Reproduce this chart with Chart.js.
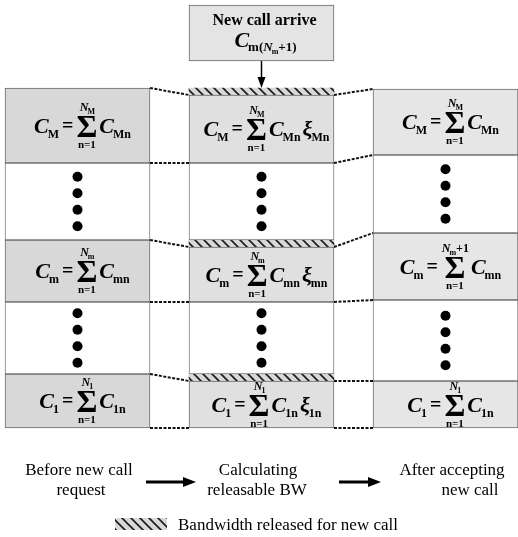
<!DOCTYPE html>
<html><head><meta charset="utf-8">
<script src="https://cdn.jsdelivr.net/npm/chart.js@4.4.1/dist/chart.umd.min.js"></script>
<style>html,body{margin:0;padding:0;background:#fff;overflow:hidden}#wrap{width:518px;height:537px;position:relative}</style>
</head><body><div id="wrap"><canvas id="c" width="518" height="537"></canvas></div>
<script>
// ---------------- data ----------------
const stageIdx = [0, 1, 2];
const stageLabels = [['Before new call', 'request'], ['Calculating', 'releasable BW'], ['After accepting', 'new call']];
// block boundaries in bandwidth units (bottom = 0), bottom to top
const beforeBounds = [0, 54, 126, 188, 265, 340];
const beforeKinds  = ['class', 'dots', 'class', 'dots', 'class'];
const calcBounds   = [0, 47, 54, 126, 181, 188, 265, 333, 340];
const calcKinds    = ['class', 'hatch', 'dots', 'class', 'hatch', 'dots', 'class', 'hatch'];
const afterBounds  = [0, 47, 128, 195, 273, 339];
const afterKinds   = ['class', 'dots', 'class', 'dots', 'class'];
// class names (bottom to top) and upper sum limits
const classSubs      = ['1', 'm', 'M'];
const upperSubs      = ['1', 'm', 'M'];
const afterUpperPlus = ['', '+1', ''];
// links between stages: [boundary in stage i, boundary in stage i+1]
const links01 = [[340, 333], [265, 265], [188, 181], [126, 126], [54, 47], [0, 0]];
const links12 = [[333, 339], [265, 273], [181, 195], [126, 128], [47, 47], [0, 0]];
// new call box (stage 1)
const newCallBox = [367, 423];
const newCallTitle = 'New call arrive';
const legendText = 'Bandwidth released for new call';

// ---------------- build ----------------
const FONT = '"Liberation Serif","Times New Roman",serif';
const cv = document.getElementById('c');
const ctx = cv.getContext('2d');

function makeHatch() {
  const s = 9;
  const c = document.createElement('canvas'); c.width = s; c.height = s;
  const g = c.getContext('2d');
  g.fillStyle = '#d8d8d8'; g.fillRect(0, 0, s, s);
  g.strokeStyle = '#1a1a1a'; g.lineWidth = 1.6;
  g.beginPath();
  g.moveTo(-1, -1); g.lineTo(s + 1, s + 1);
  g.moveTo(-1, s - 1); g.lineTo(1, s + 1);
  g.moveTo(s - 1, -1); g.lineTo(s + 1, 1);
  g.stroke();
  return ctx.createPattern(c, 'repeat');
}
const hatch = makeHatch();
const stageFill = ['#d8d8d8', '#e0e0e0', '#e6e6e6'];

const allBounds = [beforeBounds, calcBounds, afterBounds];
const allKinds = [beforeKinds, calcKinds, afterKinds];
const classData = [], dotsData = [], hatchData = [], dotPts = [];
allBounds.forEach((bounds, s) => {
  let ci = 0;
  allKinds[s].forEach((k, i) => {
    const lo = bounds[i], hi = bounds[i + 1];
    const item = {x: stageIdx[s], y: [lo, hi]};
    if (k === 'class') {
      item.cls = ci;
      classData.push(item); ci++;
    } else if (k === 'dots') {
      dotsData.push(item);
      const c = (lo + hi) / 2;
      [-24.75, -8.25, 8.25, 24.75].forEach(o => dotPts.push({x: stageIdx[s], y: c + o}));
    } else hatchData.push(item);
  });
});

function drawFormula(g, cx, cy, f) {
  const b = cy + 7;
  const items = [];
  const C = s => ({t: s, font: 'italic bold 22px ' + FONT, dy: 0});
  const S = s => ({t: s, font: 'bold 12px ' + FONT, dy: 5, pre: -1});
  items.push(C('C'), S(f.lhs), {t: '=', font: 'bold 20px ' + FONT, dy: -1, pre: 3, post: 3},
    {sigma: true}, Object.assign(C('C'), {pre: 2}), S(f.rhs));
  if (f.xi) items.push({t: 'ξ', font: 'italic bold 22px ' + FONT, dy: 0, pre: 2}, S(f.rhs));
  const sigFont = 'bold 32px ' + FONT, upFont = 'italic bold 12px ' + FONT,
        upSubFont = 'bold 8px ' + FONT, upPlusFont = 'bold 12px ' + FONT, lowFont = 'bold 11px ' + FONT;
  let w = 0;
  for (const it of items) {
    if (it.sigma) {
      g.font = sigFont; it.sw = g.measureText('Σ').width;
      g.font = upFont; it.nw = g.measureText('N').width;
      g.font = upSubFont; it.nsw = g.measureText(f.up).width;
      g.font = upPlusFont; it.npw = f.plus ? g.measureText(f.plus).width : 0;
      it.uw = it.nw + it.nsw + it.npw;
      g.font = lowFont; it.lw = g.measureText('n=1').width;
      it.w = Math.max(it.sw, it.uw, it.lw);
    } else { g.font = it.font; it.w = g.measureText(it.t).width; }
    it.x = w + (it.pre || 0);
    w = it.x + it.w + (it.post || 0);
  }
  const x0 = cx - w / 2;
  g.fillStyle = '#000'; g.textBaseline = 'alphabetic'; g.textAlign = 'left';
  for (const it of items) {
    const x = x0 + it.x;
    if (it.sigma) {
      const mx = x + it.w / 2;
      g.font = sigFont; g.fillText('Σ', mx - it.sw / 2, cy + 11);
      let ux = mx - it.uw / 2 + 1;
      g.font = upFont; g.fillText('N', ux, cy - 15);
      g.font = upSubFont; g.fillText(f.up, ux + it.nw - 1, cy - 12);
      if (f.plus) { g.font = upPlusFont; g.fillText(f.plus, ux + it.nw + it.nsw - 1, cy - 15); }
      g.font = lowFont; g.fillText('n=1', mx - it.lw / 2, cy + 22);
    } else {
      g.font = it.font; g.fillText(it.t, x, b + it.dy);
    }
  }
}

function arrow(g, x1, y1, x2, y2, lw, hl, hw) {
  const a = Math.atan2(y2 - y1, x2 - x1);
  g.strokeStyle = '#000'; g.fillStyle = '#000'; g.lineWidth = lw;
  g.beginPath(); g.moveTo(x1, y1);
  g.lineTo(x2 - Math.cos(a) * hl * 0.8, y2 - Math.sin(a) * hl * 0.8); g.stroke();
  g.beginPath(); g.moveTo(x2, y2);
  g.lineTo(x2 - Math.cos(a) * hl - Math.sin(a) * hw, y2 - Math.sin(a) * hl + Math.cos(a) * hw);
  g.lineTo(x2 - Math.cos(a) * hl + Math.sin(a) * hw, y2 - Math.sin(a) * hl - Math.cos(a) * hw);
  g.closePath(); g.fill();
}

const diagramPlugin = {
  id: 'diagram',
  afterDatasetsDraw(chart) {
    const g = chart.ctx;
    const xs = chart.scales.x, ys = chart.scales.y;
    const half = 72.5;
    g.save();
    // dashed links
    g.strokeStyle = '#111'; g.lineWidth = 2; g.setLineDash([3, 1.5]);
    [[links01, 0], [links12, 1]].forEach(([ls, s]) => {
      const xa = xs.getPixelForValue(stageIdx[s]) + half, xb = xs.getPixelForValue(stageIdx[s + 1]) - half;
      ls.forEach(([a, b]) => {
        g.beginPath(); g.moveTo(xa, ys.getPixelForValue(a)); g.lineTo(xb, ys.getPixelForValue(b)); g.stroke();
      });
    });
    g.setLineDash([]);
    // formulas
    classData.forEach(d => {
      const s = d.x;
      const cx = xs.getPixelForValue(s) + 5;
      const cy = (ys.getPixelForValue(d.y[0]) + ys.getPixelForValue(d.y[1])) / 2;
      drawFormula(g, cx, cy, {
        lhs: classSubs[d.cls], rhs: classSubs[d.cls] + 'n', up: upperSubs[d.cls],
        plus: s === 2 ? afterUpperPlus[d.cls] : '', xi: s === 1
      });
    });
    // new call box text
    const bx = xs.getPixelForValue(stageIdx[1]);
    const bTop = ys.getPixelForValue(newCallBox[1]), bBot = ys.getPixelForValue(newCallBox[0]);
    g.fillStyle = '#000'; g.textAlign = 'center'; g.textBaseline = 'alphabetic';
    g.font = 'bold 16px ' + FONT; g.fillText(newCallTitle, bx + 3, bTop + 20);
    {
      const parts = [
        {t: 'C', font: 'italic bold 22px ' + FONT, dy: 0},
        {t: 'm(', font: 'bold 13px ' + FONT, dy: 4, pre: -1},
        {t: 'N', font: 'italic bold 13px ' + FONT, dy: 4},
        {t: 'm', font: 'bold 8px ' + FONT, dy: 7, pre: -1},
        {t: '+1)', font: 'bold 13px ' + FONT, dy: 4}
      ];
      let w = 0;
      parts.forEach(p => { g.font = p.font; p.w = g.measureText(p.t).width; p.x = w + (p.pre || 0); w = p.x + p.w; });
      const x0 = bx + 4 - w / 2; g.textAlign = 'left';
      parts.forEach(p => { g.font = p.font; g.fillText(p.t, x0 + p.x, bTop + 42 + p.dy); });
    }
    // arrow from new call box to the released band
    arrow(g, bx, bBot, bx, ys.getPixelForValue(calcBounds[calcBounds.length - 1]), 1.5, 11, 4);
    // stage labels and arrows
    g.textAlign = 'center'; g.font = '17px ' + FONT;
    const lx = [79, 258, 452];
    const lx2 = [81, 257, 470];
    stageLabels.forEach((ls, s) => {
      g.fillText(ls[0], lx[s], 475);
      g.fillText(ls[1], lx2[s], 495);
    });
    arrow(g, 146, 482, 196, 482, 3, 13, 5);
    arrow(g, 339, 482, 381, 482, 3, 13, 5);
    // legend
    g.fillStyle = hatch; g.fillRect(115, 518, 52, 12);
    g.fillStyle = '#000'; g.textAlign = 'left'; g.font = '17px ' + FONT;
    g.fillText(legendText, 178, 530);
    g.restore();
  }
};

const barCommon = {type: 'bar', grouped: false, barThickness: 145, maxBarThickness: 145,
  borderSkipped: false, borderWidth: 1, order: 2};
new Chart(cv, {
  type: 'bar',
  data: {
    datasets: [
      Object.assign({}, barCommon, {label: 'blocks', data: classData,
        backgroundColor: classData.map(d => stageFill[d.x]), borderColor: '#6a6a6a'}),
      Object.assign({}, barCommon, {label: 'dots', data: dotsData, backgroundColor: '#ffffff', borderColor: '#7a7a7a'}),
      Object.assign({}, barCommon, {label: 'released', data: hatchData, backgroundColor: hatch, borderColor: '#555', borderWidth: 0}),
      Object.assign({}, barCommon, {label: 'new call', data: [{x: stageIdx[1], y: newCallBox}],
        backgroundColor: '#e4e4e4', borderColor: '#6a6a6a'}),
      {type: 'scatter', label: 'dotmarks', data: dotPts, pointRadius: 5, pointBackgroundColor: '#000',
        pointBorderWidth: 0, showLine: false, order: 0}
    ]
  },
  options: {
    responsive: false, animation: false, events: [],
    layout: {padding: 0, autoPadding: false},
    plugins: {legend: {display: false}, tooltip: {enabled: false}},
    scales: {
      x: {type: 'linear', min: -0.4212, max: 2.394, display: false, offset: false},
      y: {type: 'linear', min: -109, max: 428, display: false}
    }
  },
  plugins: [diagramPlugin]
});
</script></body></html>
